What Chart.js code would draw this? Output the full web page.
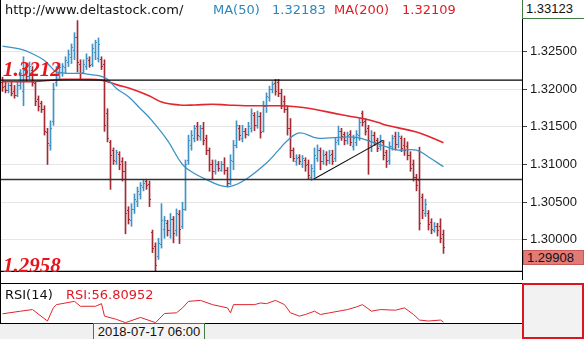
<!DOCTYPE html>
<html>
<head>
<meta charset="utf-8">
<script src="https://cdn.jsdelivr.net/npm/chart.js@4.4.1/dist/chart.umd.min.js"></script>
<style>
body{margin:0;width:584px;height:339px;overflow:hidden;background:#fff;position:relative;font-family:"DejaVu Sans",sans-serif}
canvas{position:absolute;left:0}
#priceChart{top:0}
#rsiChart{top:283px}
.t{position:absolute;white-space:nowrap;font-size:13px;line-height:15px}
.lvl{position:absolute;left:3px;font:italic bold 21px "Liberation Serif",serif;color:#e8141c;line-height:22px}
.ln{position:absolute;background:#000}
.ax{position:absolute;font:13px "Liberation Sans",sans-serif;color:#111;line-height:14px;padding-left:3px;box-sizing:border-box}
</style>
</head>
<body>
<canvas id="priceChart" width="584" height="283"></canvas>
<canvas id="rsiChart" width="584" height="40"></canvas>

<div class="t" style="left:5px;top:2px;color:#111">http://www.deltastock.com/</div>
<div class="t" style="left:213px;top:2px;color:#2e86bd">MA(50)</div>
<div class="t" style="left:272px;top:2px;color:#2e86bd">1.32183</div>
<div class="t" style="left:334px;top:2px;color:#e01b24">MA(200)</div>
<div class="t" style="left:402px;top:2px;color:#e01b24">1.32109</div>
<div class="lvl" style="top:58px">1.3212</div>
<div class="lvl" style="top:254px">1.2958</div>

<div class="ax" style="left:522px;top:0;width:62px;height:19px;border:1px solid #3f7a3f;border-right:none;border-top:none;padding-top:2px;background:#fff">1.33123</div>
<div class="ax" style="left:523px;top:250px;width:61px;height:15px;background:#e27b78;border:1px solid #c85a58;padding-top:0">1.29908</div>

<div class="ln" style="left:0;top:0;width:1px;height:323px"></div>
<div class="ln" style="left:0;top:283px;width:522px;height:1px"></div>
<div class="ln" style="left:0;top:323px;width:522px;height:1px"></div>
<div style="position:absolute;left:0;top:324px;width:522px;height:15px;background:#f0f0f0"></div>
<div class="ax" style="left:93px;top:323px;width:112px;height:16px;border:1px solid #3f7a3f;border-bottom:none;background:#f4f4f4;padding-top:1px;text-align:center;padding-left:0">2018-07-17 06:00</div>
<div style="position:absolute;left:522px;top:283px;width:62px;height:56px;box-sizing:border-box;border:2px solid #e0141c;background:#f2f2f2"></div>

<div class="t" style="left:5px;top:287px;color:#111">RSI(14)</div>
<div class="t" style="left:66px;top:287px;color:#e01b24">RSI:56.80952</div>

<script>
// EURUSD-like H4 bars, one per 3px column
const opens = [1.3210,1.3204,1.3199,1.3205,1.3197,1.3192,1.3205,1.3197,1.3229,1.3218,
  1.3226,1.3208,1.3187,1.3181,1.3174,1.3143,1.3126,1.3158,1.3210,1.3221,
  1.3223,1.3229,1.3236,1.3243,1.3252,1.3269,1.3234,1.3223,1.3231,1.3239,
  1.3234,1.3249,1.3242,1.3240,1.3234,1.3169,1.3130,1.3119,1.3104,1.3114,
  1.3104,1.3091,1.3039,1.3026,1.3041,1.3052,1.3061,1.3070,1.3078,1.3074,
  1.3010,1.2992,1.2979,1.2995,1.3015,1.3022,1.3013,1.3028,1.3013,1.3034,
  1.3018,1.3041,1.3106,1.3126,1.3135,1.3151,1.3138,1.3148,1.3135,1.3119,
  1.3100,1.3091,1.3101,1.3093,1.3100,1.3093,1.3076,1.3104,1.3126,1.3149,
  1.3135,1.3145,1.3140,1.3149,1.3166,1.3153,1.3164,1.3145,1.3177,1.3190,
  1.3200,1.3208,1.3210,1.3195,1.3184,1.3174,1.3148,1.3119,1.3104,1.3110,
  1.3101,1.3106,1.3101,1.3083,1.3091,1.3109,1.3119,1.3104,1.3114,1.3106,
  1.3114,1.3109,1.3132,1.3145,1.3140,1.3132,1.3140,1.3125,1.3130,1.3139,
  1.3169,1.3158,1.3148,1.3126,1.3139,1.3132,1.3125,1.3130,1.3117,1.3106,
  1.3125,1.3138,1.3127,1.3135,1.3126,1.3125,1.3113,1.3100,1.3083,1.3080,
  1.3057,1.3036,1.3036,1.3023,1.3013,1.3018,1.3018,1.3008];
const highs = [1.3216,1.3210,1.3208,1.3210,1.3205,1.3210,1.3226,1.3243,1.3234,1.3236,
  1.3230,1.3210,1.3191,1.3184,1.3178,1.3148,1.3158,1.3208,1.3230,1.3234,
  1.3234,1.3243,1.3252,1.3260,1.3275,1.3291,1.3239,1.3239,1.3247,1.3243,
  1.3260,1.3265,1.3268,1.3243,1.3239,1.3174,1.3132,1.3122,1.3119,1.3117,
  1.3109,1.3104,1.3044,1.3048,1.3061,1.3070,1.3076,1.3080,1.3080,1.3078,
  1.3013,1.2996,1.3002,1.3048,1.3031,1.3026,1.3035,1.3031,1.3041,1.3039,
  1.3050,1.3106,1.3139,1.3145,1.3152,1.3156,1.3152,1.3156,1.3139,1.3122,
  1.3106,1.3106,1.3104,1.3104,1.3109,1.3096,1.3113,1.3132,1.3158,1.3152,
  1.3152,1.3148,1.3156,1.3174,1.3169,1.3171,1.3169,1.3184,1.3195,1.3204,
  1.3210,1.3213,1.3213,1.3200,1.3191,1.3178,1.3161,1.3122,1.3113,1.3113,
  1.3112,1.3109,1.3106,1.3100,1.3122,1.3126,1.3122,1.3119,1.3117,1.3119,
  1.3119,1.3135,1.3151,1.3148,1.3143,1.3143,1.3145,1.3139,1.3145,1.3161,
  1.3171,1.3161,1.3152,1.3145,1.3143,1.3135,1.3139,1.3132,1.3119,1.3130,
  1.3139,1.3143,1.3143,1.3138,1.3135,1.3130,1.3117,1.3106,1.3087,1.3123,
  1.3061,1.3054,1.3039,1.3028,1.3023,1.3022,1.3028,1.3013];
const lows = [1.3197,1.3195,1.3195,1.3191,1.3188,1.3190,1.3200,1.3178,1.3210,1.3213,
  1.3204,1.3178,1.3171,1.3169,1.3139,1.3100,1.3119,1.3152,1.3204,1.3213,
  1.3217,1.3221,1.3230,1.3234,1.3239,1.3223,1.3213,1.3221,1.3226,1.3229,
  1.3230,1.3239,1.3236,1.3226,1.3144,1.3130,1.3067,1.3100,1.3100,1.3093,
  1.3078,1.3008,1.3021,1.3018,1.3035,1.3044,1.3054,1.3065,1.3067,1.3044,
  1.2983,1.2958,1.2974,1.2989,1.3002,1.3005,1.3002,1.2996,1.3005,1.2995,
  1.3015,1.3039,1.3100,1.3119,1.3130,1.3132,1.3132,1.3126,1.3113,1.3091,
  1.3080,1.3087,1.3091,1.3091,1.3087,1.3070,1.3073,1.3093,1.3122,1.3132,
  1.3130,1.3135,1.3138,1.3143,1.3145,1.3148,1.3135,1.3143,1.3169,1.3184,
  1.3195,1.3192,1.3190,1.3174,1.3169,1.3139,1.3109,1.3104,1.3099,1.3100,
  1.3096,1.3091,1.3080,1.3079,1.3083,1.3104,1.3093,1.3100,1.3099,1.3101,
  1.3100,1.3104,1.3126,1.3132,1.3126,1.3127,1.3125,1.3119,1.3125,1.3132,
  1.3151,1.3139,1.3087,1.3117,1.3125,1.3117,1.3119,1.3106,1.3096,1.3100,
  1.3119,1.3119,1.3122,1.3117,1.3112,1.3106,1.3091,1.3078,1.3065,1.3013,
  1.3028,1.3031,1.3013,1.3008,1.3010,1.3005,1.2996,1.2982];
const closes = [1.3203,1.3199,1.3205,1.3195,1.3192,1.3205,1.3221,1.3226,1.3217,1.3231,
  1.3210,1.3184,1.3178,1.3174,1.3145,1.3129,1.3148,1.3200,1.3223,1.3229,
  1.3231,1.3239,1.3247,1.3256,1.3269,1.3236,1.3221,1.3234,1.3242,1.3232,
  1.3255,1.3262,1.3260,1.3231,1.3152,1.3135,1.3113,1.3106,1.3116,1.3100,
  1.3091,1.3035,1.3028,1.3041,1.3054,1.3065,1.3073,1.3076,1.3073,1.3054,
  1.2989,1.2966,1.2996,1.3026,1.3026,1.3013,1.3028,1.3009,1.3035,1.3015,
  1.3041,1.3100,1.3132,1.3139,1.3148,1.3139,1.3148,1.3132,1.3119,1.3100,
  1.3091,1.3101,1.3096,1.3100,1.3093,1.3076,1.3106,1.3126,1.3152,1.3139,
  1.3145,1.3140,1.3151,1.3169,1.3152,1.3165,1.3143,1.3178,1.3191,1.3200,
  1.3207,1.3197,1.3195,1.3179,1.3174,1.3148,1.3119,1.3109,1.3109,1.3104,
  1.3108,1.3099,1.3086,1.3096,1.3113,1.3119,1.3104,1.3113,1.3106,1.3113,
  1.3104,1.3130,1.3145,1.3138,1.3132,1.3139,1.3130,1.3135,1.3140,1.3156,
  1.3156,1.3145,1.3132,1.3139,1.3130,1.3122,1.3132,1.3113,1.3104,1.3125,
  1.3135,1.3127,1.3138,1.3122,1.3119,1.3112,1.3096,1.3083,1.3073,1.3022,
  1.3039,1.3048,1.3021,1.3015,1.3019,1.3013,1.3002,1.2991];

// moving averages, read at a few bars and smoothed by the line
const ma50Bars = [0,6,10,14,16,18,22,26,30,33,35,38,42,46,49,55,60,64,68,72,76,81,88,92,95,99,105,112,118,123,129,132,138,142,147];
const ma50 = [1.3257,1.3253,1.3247,1.3238,1.3230,1.3223,1.3221,1.3221,1.3219,1.3217,1.3213,1.3201,1.3190,1.3174,1.3162,1.3132,1.3100,1.3088,1.3080,1.3073,1.3071,1.3080,1.3102,1.3119,1.3132,1.3142,1.3135,1.3136,1.3136,1.3130,1.3122,1.3119,1.3119,1.3110,1.3097];
const ma200Bars = [0,10,20,27,33,38,44,49,53,59,64,70,75,81,92,97,103,113,120,125,128,138,147];
const ma200 = [1.3210,1.3210,1.3213,1.3213,1.3212,1.3206,1.3199,1.3191,1.3183,1.3179,1.3179,1.3180,1.3179,1.3178,1.3178,1.3177,1.3174,1.3166,1.3161,1.3156,1.3152,1.3143,1.3129];

const levels = [1.3212, 1.3080, 1.2958];
const trendBars = [103.5, 126.8];
const trendVals = [1.3080, 1.3132];

const rsiBars = [0,6,10,15,17,18,24,26,31,33,34,38,41,46,51,54,58,60,62,66,70,75,76,77,84,86,88,91,94,96,99,101,104,106,109,115,118,120,123,126,131,134,137,139,142,146,147];
const rsi = [33,37,39.5,22,42.5,47,52,44.5,44.5,48.5,29.5,24.5,19.5,27.5,19.5,33.5,34.5,42,52,53.5,47,42,34.5,47,47,49.5,48.5,53.5,47,34.5,29.5,32,37,32,34.5,39.5,43.5,47,37,39.5,38.5,42,32,23.5,22,23.5,20.5];

const priceTicks = [1.300, 1.305, 1.310, 1.315, 1.320, 1.325];

const UP = '#3f93c6', DOWN = '#a52a33';
const barColors = opens.map((o, i) => closes[i] >= o ? UP : DOWN);
const xMin = -0.8333, xMax = 173.1667;

const ohlcTicks = {
  id: 'ohlcTicks',
  afterDatasetDraw(chart, args) {
    if (args.index !== 0) return;
    const {ctx, scales: {x, y}} = chart;
    ctx.save();
    ctx.lineWidth = 1;
    opens.forEach((o, i) => {
      const cx = x.getPixelForValue(i);
      const yo = Math.round(y.getPixelForValue(o)) + 0.5;
      const yc = Math.round(y.getPixelForValue(closes[i])) + 0.5;
      ctx.strokeStyle = barColors[i];
      ctx.beginPath();
      ctx.moveTo(cx - 1.5, yo); ctx.lineTo(cx - 0.5, yo);
      ctx.moveTo(cx + 0.5, yc); ctx.lineTo(cx + 1.5, yc);
      ctx.stroke();
    });
    ctx.restore();
  }
};

const pts = (xs, ys) => xs.map((v, i) => ({x: v, y: ys[i]}));

new Chart(document.querySelector('#priceChart'), {
  type: 'bar',
  data: {
    datasets: [
      {
        type: 'bar',
        data: highs.map((h, i) => ({x: i, y: [lows[i], h]})),
        backgroundColor: barColors,
        barThickness: 1,
        borderWidth: 0,
        order: 3
      },
      {type: 'line', data: pts(ma50Bars, ma50), borderColor: '#3b93c4', borderWidth: 1.3, tension: 0.4, pointRadius: 0, order: 2},
      {type: 'line', data: pts(ma200Bars, ma200), borderColor: '#e3262d', borderWidth: 1.6, tension: 0.4, pointRadius: 0, order: 2},
      ...levels.map((v, k) => ({
        type: 'line',
        data: [{x: xMin, y: v}, {x: xMax, y: v}],
        borderColor: k === 1 ? '#333' : '#000',
        borderWidth: k === 1 ? 1.6 : 1.2,
        pointRadius: 0,
        order: 1
      })),
      {type: 'line', data: pts(trendBars, trendVals), borderColor: '#111', borderWidth: 1.1, pointRadius: 0, order: 1}
    ]
  },
  options: {
    responsive: false,
    animation: false,
    devicePixelRatio: 1,
    layout: {padding: 0},
    plugins: {legend: {display: false}, tooltip: {enabled: false}},
    scales: {
      x: {type: 'linear', min: xMin, max: xMax, offset: false, display: false},
      y: {
        position: 'right',
        min: 1.2946753,
        max: 1.3314286,
        afterBuildTicks: s => { s.ticks = priceTicks.map(v => ({value: v})); },
        afterFit: s => { s.width = 62; },
        grid: {color: '#e6e6e6', tickColor: '#444', tickLength: 5},
        border: {display: true, color: '#000'},
        ticks: {
          padding: 3,
          color: '#1a1a1a',
          font: {family: 'Liberation Sans', size: 13, lineHeight: 0.01},
          callback: v => v.toFixed(5)
        }
      }
    }
  },
  plugins: [ohlcTicks]
});

new Chart(document.querySelector('#rsiChart'), {
  type: 'line',
  data: {
    datasets: [{data: pts(rsiBars, rsi), borderColor: '#e0242c', borderWidth: 1, pointRadius: 0, tension: 0}]
  },
  options: {
    responsive: false,
    animation: false,
    devicePixelRatio: 1,
    layout: {padding: {right: 62}},
    plugins: {legend: {display: false}, tooltip: {enabled: false}},
    scales: {
      x: {type: 'linear', min: xMin, max: xMax, display: false},
      y: {min: 19, max: 80, display: false}
    }
  }
});
</script>
</body>
</html>
